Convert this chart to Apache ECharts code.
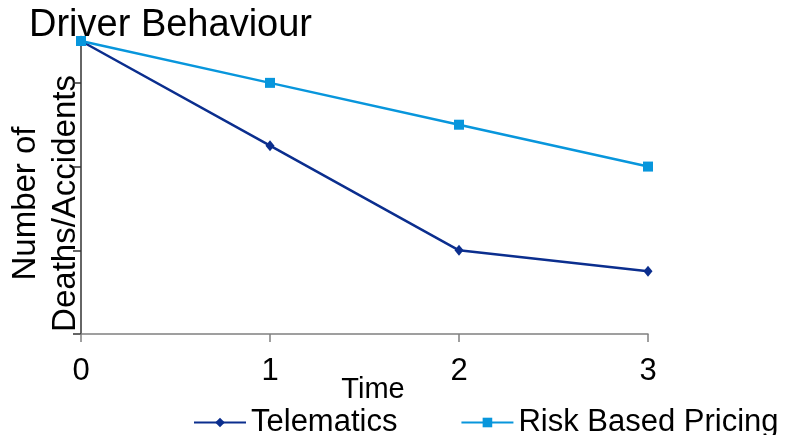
<!DOCTYPE html>
<html>
<head>
<meta charset="utf-8">
<script src="https://cdn.jsdelivr.net/npm/echarts@6/dist/echarts.min.js"></script>
<style>html,body{margin:0;padding:0;background:#fff;}#c{width:788px;height:435px;}</style>
</head>
<body>
<div id="c"></div>
<script>
const timePoints = [0, 1, 2, 3];
const telematics = [3.5, 2.25, 1.0, 0.75];
const riskBasedPricing = [3.5, 3.0, 2.5, 2.0];
const yTickValues = [0, 1, 2, 3];
const seriesNames = ['Telematics', 'Risk Based Pricing'];

const FONT = 'Liberation Sans, Arial, sans-serif';
const chart = echarts.init(document.getElementById('c'), null, {renderer: 'canvas'});
chart.setOption({
  backgroundColor: '#ffffff',
  animation: false,
  title: {
    text: 'Driver Behaviour',
    left: 29, top: 7, padding: 0,
    textStyle: {fontFamily: FONT, fontSize: 38, fontWeight: 'normal', color: '#000'}
  },
  legend: {
    data: seriesNames,
    left: 193, top: 407, padding: 0,
    itemWidth: 52, itemHeight: 12, itemGap: 63,
    textStyle: {fontFamily: FONT, fontSize: 31, color: '#000'}
  },
  grid: {left: 81, right: 140, top: 41, bottom: 101, outerBoundsMode: 'none', containLabel: false},
  xAxis: {
    type: 'value', min: 0, max: 3, interval: 1,
    name: 'Time', nameLocation: 'middle', nameGap: 41, nameMoveOverlap: false,
    nameTextStyle: {fontFamily: FONT, fontSize: 29, color: '#000', padding: [0, 0, 0, 17]},
    axisLine: {show: true, lineStyle: {color: '#808080', width: 1.5}},
    axisTick: {show: true, length: 8, lineStyle: {color: '#808080', width: 1.5}},
    axisLabel: {fontFamily: FONT, fontSize: 31, color: '#000', margin: 22},
    splitLine: {show: false}
  },
  yAxis: {
    type: 'value', min: 0, max: 3.5,
    name: 'Number of\nDeaths/Accidents', nameLocation: 'middle', nameGap: -5, nameMoveOverlap: false,
    nameTextStyle: {fontFamily: FONT, fontSize: 33, color: '#000', lineHeight: 40, padding: [0, 32, 0, 0]},
    axisLine: {show: true, lineStyle: {color: '#333', width: 1.5}},
    axisTick: {show: true, length: 8, customValues: yTickValues, lineStyle: {color: '#333', width: 1.5}},
    axisLabel: {show: false},
    splitLine: {show: false}
  },
  series: [
    {
      name: seriesNames[0], type: 'line',
      data: timePoints.map((t, i) => [t, telematics[i]]),
      symbol: 'diamond', symbolSize: [9, 11],
      lineStyle: {color: '#0B2E8E', width: 2.5},
      itemStyle: {color: '#0B2E8E'}, z: 2
    },
    {
      name: seriesNames[1], type: 'line',
      data: timePoints.map((t, i) => [t, riskBasedPricing[i]]),
      symbol: 'rect', symbolSize: 10,
      lineStyle: {color: '#0896DC', width: 2.5},
      itemStyle: {color: '#0896DC'}, z: 3
    }
  ]
});
</script>
</body>
</html>
